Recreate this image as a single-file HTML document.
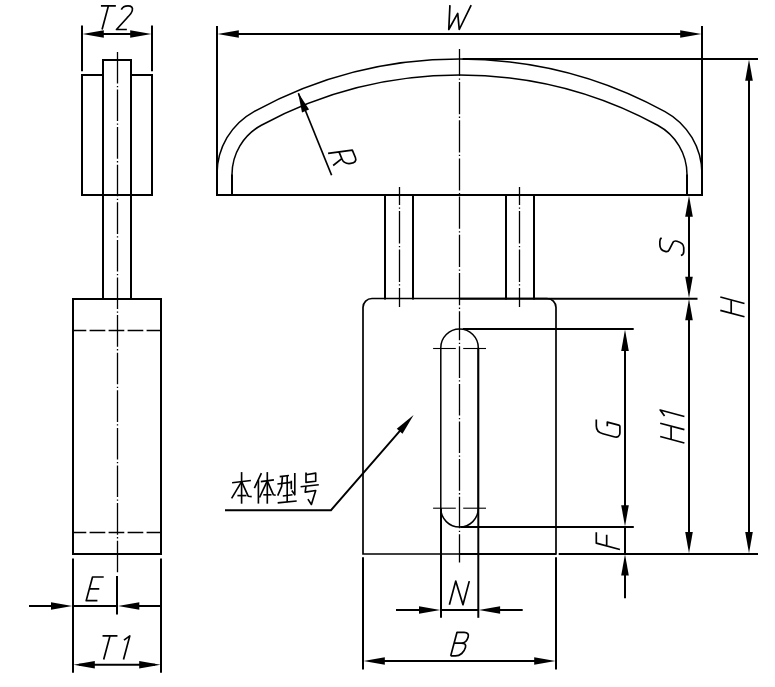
<!DOCTYPE html>
<html><head><meta charset="utf-8"><title>Drawing</title>
<style>html,body{margin:0;padding:0;background:#fff;font-family:"Liberation Sans",sans-serif;}svg{display:block}</style>
</head><body>
<svg width="775" height="687" viewBox="0 0 775 687" fill="none" stroke="#000" stroke-linecap="butt">
<rect x="0" y="0" width="775" height="687" fill="#fff" stroke="none"/>
<path d="M103,75 L82,75 L82,195 L152,195 L152,75 L131,75" stroke-width="2.0" stroke-linecap="square"/>
<path d="M103,299 L103,60 L131,60 L131,299" stroke-width="2.0"/>
<rect x="73" y="299" width="88" height="255" stroke-width="2.0"/>
<line x1="73" y1="330.5" x2="161" y2="330.5" stroke-width="1.3" stroke-dasharray="15.7 3.3" stroke-dashoffset="2.4"/>
<line x1="73" y1="532.5" x2="161" y2="532.5" stroke-width="1.3" stroke-dasharray="15.7 3.3" stroke-dashoffset="2.4"/>
<line x1="117.50" y1="51.00" x2="117.50" y2="573.30" stroke-width="1.3" stroke-dasharray="31.60 2.4 1.3 2.3" stroke-dashoffset="36.70"/>
<line x1="82.00" y1="25.60" x2="82.00" y2="71.30" stroke-width="2.0" />
<line x1="152.00" y1="25.60" x2="152.00" y2="71.30" stroke-width="2.0" />
<line x1="88.00" y1="34.00" x2="146.00" y2="34.00" stroke-width="2.0" />
<polygon points="82.50,34.00 103.80,30.20 103.80,37.80" fill="#000" stroke="none"/>
<polygon points="151.50,34.00 130.20,37.80 130.20,30.20" fill="#000" stroke="none"/>
<path d="M 100.92,5.90 L 115.86,5.90 M 108.40,5.90 L 102.08,29.50" stroke-width="1.7" fill="none" stroke-linejoin="round" stroke-linecap="butt"/>
<path d="M 121.31,9.68 C 122.42,7.32 124.68,5.90 127.99,5.90 C 131.53,5.90 133.09,7.55 132.27,10.62 C 131.57,13.22 130.07,14.87 127.19,17.70 L 116.47,29.50 L 126.86,29.50" stroke-width="1.7" fill="none" stroke-linejoin="round" stroke-linecap="butt"/>
<line x1="73.00" y1="558.40" x2="73.00" y2="672.80" stroke-width="2.0" />
<line x1="161.00" y1="558.40" x2="161.00" y2="672.80" stroke-width="2.0" />
<line x1="79.00" y1="664.80" x2="155.00" y2="664.80" stroke-width="2.0" />
<polygon points="73.50,664.80 94.80,661.00 94.80,668.60" fill="#000" stroke="none"/>
<polygon points="160.50,664.80 139.20,668.60 139.20,661.00" fill="#000" stroke="none"/>
<path d="M 102.52,635.90 L 117.46,635.90 M 110.00,635.90 L 103.68,659.50" stroke-width="1.7" fill="none" stroke-linejoin="round" stroke-linecap="butt"/>
<path d="M 123.97,640.15 L 129.82,635.90 L 123.50,659.50" stroke-width="1.7" fill="none" stroke-linejoin="round" stroke-linecap="butt"/>
<line x1="29.00" y1="606.00" x2="66.00" y2="606.00" stroke-width="2.0" />
<line x1="73.00" y1="606.00" x2="117.00" y2="606.00" stroke-width="2.0" />
<line x1="124.00" y1="606.00" x2="161.00" y2="606.00" stroke-width="2.0" />
<polygon points="72.30,606.00 51.00,609.80 51.00,602.20" fill="#000" stroke="none"/>
<polygon points="118.00,606.00 139.30,602.20 139.30,609.80" fill="#000" stroke="none"/>
<line x1="117.00" y1="576.00" x2="117.00" y2="614.50" stroke-width="2.0" />
<path d="M 103.73,577.00 L 92.52,577.00 L 86.20,600.60 L 97.41,600.60 M 89.36,588.80 L 99.27,588.80" stroke-width="1.7" fill="none" stroke-linejoin="round" stroke-linecap="butt"/>
<line x1="217.00" y1="26.00" x2="217.00" y2="195.00" stroke-width="2.0" />
<line x1="702.00" y1="26.00" x2="702.00" y2="195.00" stroke-width="2.0" />
<line x1="216.00" y1="195.00" x2="703.00" y2="195.00" stroke-width="2.0" />
<line x1="223.00" y1="34.00" x2="696.00" y2="34.00" stroke-width="2.0" />
<polygon points="217.50,34.00 238.80,30.20 238.80,37.80" fill="#000" stroke="none"/>
<polygon points="701.50,34.00 680.20,37.80 680.20,30.20" fill="#000" stroke="none"/>
<path d="M 449.94,5.10 L 448.77,29.50 L 457.72,13.40 L 459.26,29.50 L 471.17,5.10" stroke-width="1.7" fill="none" stroke-linejoin="round" stroke-linecap="butt"/>
<path d="M217.00,195 L217.00,174.00 A71.18,71.18 0 0 1 254.01,111.56 A428.00,428.00 0 0 1 664.99,111.56 A71.18,71.18 0 0 1 702.00,174.00 L702.00,195" stroke-width="1.5"/>
<path d="M232.00,195 L232.00,174.50 A56.04,56.04 0 0 1 261.35,125.22 A416.00,416.00 0 0 1 657.65,125.22 A56.04,56.04 0 0 1 687.00,174.50 L687.00,195" stroke-width="1.5"/>
<line x1="232.00" y1="174.50" x2="232.00" y2="195.00" stroke-width="2.0" />
<line x1="687.00" y1="174.50" x2="687.00" y2="195.00" stroke-width="2.0" />
<line x1="331.60" y1="175.20" x2="298.40" y2="93.30" stroke-width="1.7" />
<polygon points="298.00,92.50 309.05,109.60 302.01,112.46" fill="#000" stroke="none"/>
<path d="M 328.10,153.30 L 352.32,150.11 L 355.39,157.52 C 356.84,161.01 354.56,162.92 350.81,163.42 C 347.06,163.91 343.52,162.77 342.07,159.28 L 339.00,151.86 M 341.80,158.62 L 333.16,165.51" stroke-width="1.7" fill="none" stroke-linejoin="round" stroke-linecap="butt"/>
<line x1="385.00" y1="195.00" x2="385.00" y2="299.60" stroke-width="2.0" />
<line x1="413.00" y1="195.00" x2="413.00" y2="299.60" stroke-width="2.0" />
<line x1="506.00" y1="195.00" x2="506.00" y2="299.60" stroke-width="2.0" />
<line x1="534.00" y1="195.00" x2="534.00" y2="299.60" stroke-width="2.0" />
<line x1="399.50" y1="187.00" x2="399.50" y2="307.00" stroke-width="1.3" stroke-dasharray="32.40 2.4 1.3 2.3" stroke-dashoffset="14.30"/>
<line x1="519.50" y1="187.00" x2="519.50" y2="307.00" stroke-width="1.3" stroke-dasharray="32.40 2.4 1.3 2.3" stroke-dashoffset="14.30"/>
<path d="M363.0,554.0 L363.0,307.5 A9,9 0 0 1 372.0,298.5 L547.0,298.5 A9,9 0 0 1 556.0,307.5 L556.0,554.0 Z" stroke-width="1.7"/>
<path d="M440.8,508.35 L440.8,347.75 A18.75,18.75 0 0 1 478.3,347.75 L478.3,508.35 A18.75,18.75 0 0 1 440.8,508.35" stroke-width="1.5"/>
<line x1="478.30" y1="347.75" x2="478.30" y2="508.35" stroke-width="2.0" />
<line x1="441.00" y1="508.35" x2="441.00" y2="617.80" stroke-width="2.0" />
<line x1="478.30" y1="508.35" x2="478.30" y2="617.80" stroke-width="2.0" />
<line x1="433.10" y1="348.50" x2="455.80" y2="348.50" stroke-width="1.1" />
<line x1="463.20" y1="348.50" x2="486.00" y2="348.50" stroke-width="1.1" />
<line x1="433.10" y1="508.20" x2="455.80" y2="508.20" stroke-width="1.1" />
<line x1="463.20" y1="508.20" x2="486.00" y2="508.20" stroke-width="1.1" />
<line x1="459.50" y1="49.10" x2="459.50" y2="325.00" stroke-width="1.3" stroke-dasharray="32.20 2.4 1.3 2.3" stroke-dashoffset="5.30"/>
<line x1="459.50" y1="325.00" x2="459.50" y2="562.60" stroke-width="1.3" stroke-dasharray="31.60 2.4 1.3 2.3" stroke-dashoffset="16.30"/>
<line x1="462.60" y1="59.00" x2="758.00" y2="59.00" stroke-width="2.0" />
<line x1="459.50" y1="298.80" x2="697.50" y2="298.80" stroke-width="2.0" />
<line x1="462.90" y1="329.00" x2="633.70" y2="329.00" stroke-width="2.0" />
<line x1="460.50" y1="527.00" x2="633.80" y2="527.00" stroke-width="2.0" />
<line x1="459.50" y1="554.00" x2="556.00" y2="554.00" stroke-width="2.0" />
<line x1="558.70" y1="554.00" x2="758.00" y2="554.00" stroke-width="2.0" />
<line x1="625.00" y1="335.00" x2="625.00" y2="521.00" stroke-width="2.0" />
<line x1="625.00" y1="527.00" x2="625.00" y2="554.00" stroke-width="2.0" />
<line x1="625.00" y1="560.00" x2="625.00" y2="598.30" stroke-width="2.0" />
<polygon points="625.00,329.60 628.80,350.90 621.20,350.90" fill="#000" stroke="none"/>
<polygon points="625.00,526.50 621.20,505.20 628.80,505.20" fill="#000" stroke="none"/>
<polygon points="625.00,554.30 628.80,575.60 621.20,575.60" fill="#000" stroke="none"/>
<line x1="689.00" y1="201.00" x2="689.00" y2="292.50" stroke-width="2.0" />
<line x1="689.00" y1="304.50" x2="689.00" y2="548.00" stroke-width="2.0" />
<polygon points="689.00,195.50 692.80,216.80 685.20,216.80" fill="#000" stroke="none"/>
<polygon points="689.00,298.00 685.20,276.70 692.80,276.70" fill="#000" stroke="none"/>
<polygon points="689.00,299.00 692.80,320.30 685.20,320.30" fill="#000" stroke="none"/>
<polygon points="689.00,553.30 685.20,532.00 692.80,532.00" fill="#000" stroke="none"/>
<line x1="749.00" y1="65.00" x2="749.00" y2="548.00" stroke-width="2.0" />
<polygon points="749.00,59.50 752.80,80.80 745.20,80.80" fill="#000" stroke="none"/>
<polygon points="749.00,553.30 745.20,532.00 752.80,532.00" fill="#000" stroke="none"/>
<path d="M 661.52,237.78 C 660.33,238.65 659.85,239.96 659.85,241.39 L 659.85,244.74 C 659.85,248.08 661.76,250.51 665.11,251.40 C 667.50,252.05 668.45,251.35 669.17,249.86 L 673.00,242.29 C 673.71,241.04 674.91,240.65 677.06,241.22 C 681.36,242.38 683.75,244.45 683.75,247.80 L 683.75,251.62 C 683.75,254.01 682.55,255.12 680.88,255.39" stroke-width="1.7" fill="none" stroke-linejoin="round" stroke-linecap="butt"/>
<path d="M 720.30,310.32 L 744.50,316.80 M 720.30,297.01 L 744.50,303.49 M 731.19,313.23 L 731.19,299.92" stroke-width="1.7" fill="none" stroke-linejoin="round" stroke-linecap="butt"/>
<path d="M 660.20,436.52 L 684.40,443.00 M 660.20,423.21 L 684.40,429.69 M 671.09,439.43 L 671.09,426.12" stroke-width="1.7" fill="none" stroke-linejoin="round" stroke-linecap="butt"/>
<path d="M 664.56,416.02 L 660.20,410.02 L 684.40,416.50" stroke-width="1.7" fill="none" stroke-linejoin="round" stroke-linecap="butt"/>
<path d="M 596.30,419.47 L 596.30,425.93 C 596.30,429.62 598.66,432.61 602.91,433.75 L 614.00,436.72 C 617.54,437.67 619.90,436.41 619.90,433.11 L 619.90,426.50 Q 619.90,425.46 618.72,425.15 L 607.30,422.08 L 607.30,426.29" stroke-width="1.7" fill="none" stroke-linejoin="round" stroke-linecap="butt"/>
<path d="M 596.30,532.32 L 596.30,543.18 L 619.90,549.50 M 606.68,545.96 L 606.68,534.87" stroke-width="1.7" fill="none" stroke-linejoin="round" stroke-linecap="butt"/>
<line x1="396.00" y1="610.00" x2="434.00" y2="610.00" stroke-width="2.0" />
<line x1="441.00" y1="610.00" x2="478.30" y2="610.00" stroke-width="2.0" />
<line x1="485.00" y1="610.00" x2="522.70" y2="610.00" stroke-width="2.0" />
<polygon points="440.30,610.00 419.00,613.80 419.00,606.20" fill="#000" stroke="none"/>
<polygon points="478.80,610.00 500.10,606.20 500.10,613.80" fill="#000" stroke="none"/>
<path d="M 449.40,604.70 L 455.72,581.10 L 462.97,604.70 L 469.29,581.10" stroke-width="1.7" fill="none" stroke-linejoin="round" stroke-linecap="butt"/>
<line x1="363.00" y1="557.30" x2="363.00" y2="669.50" stroke-width="2.0" />
<line x1="556.00" y1="557.30" x2="556.00" y2="669.50" stroke-width="2.0" />
<line x1="369.00" y1="661.00" x2="550.00" y2="661.00" stroke-width="2.0" />
<polygon points="363.50,661.00 384.80,657.20 384.80,664.80" fill="#000" stroke="none"/>
<polygon points="555.50,661.00 534.20,664.80 534.20,657.20" fill="#000" stroke="none"/>
<path d="M 450.70,655.90 L 457.02,632.30 L 464.10,632.30 C 467.64,632.30 468.91,634.19 468.15,637.02 C 467.14,640.80 464.50,643.16 461.19,643.16 L 454.11,643.16 M 461.19,643.16 C 464.73,643.16 466.24,644.57 465.48,647.40 C 464.16,652.36 460.14,655.90 455.42,655.90 L 450.70,655.90" stroke-width="1.7" fill="none" stroke-linejoin="round" stroke-linecap="butt"/>
<path d="M225,510.2 L331,510.2 L408.4,421.1" stroke-width="1.9"/>
<polygon points="413.60,415.10 402.50,433.67 396.76,428.69" fill="#000" stroke="none"/>
<path d="M241.6,472.1 L241.6,503.7" stroke-width="1.65" stroke-linecap="butt" stroke-linejoin="round"/>
<path d="M232.1,482.7 L250.9,480.5" stroke-width="1.65" stroke-linecap="butt" stroke-linejoin="round"/>
<path d="M241.6,481.6 L231.6,498.3" stroke-width="1.65" stroke-linecap="butt" stroke-linejoin="round"/>
<path d="M241.6,481.6 L248.2,496.2 L251.7,496.6" stroke-width="1.65" stroke-linecap="butt" stroke-linejoin="round"/>
<path d="M237.4,495.6 L246.5,495.6" stroke-width="1.65" stroke-linecap="butt" stroke-linejoin="round"/>
<path d="M261.4,473.1 L254.4,488.2" stroke-width="1.65" stroke-linecap="butt" stroke-linejoin="round"/>
<path d="M258.4,480.1 L258.4,503.6" stroke-width="1.65" stroke-linecap="butt" stroke-linejoin="round"/>
<path d="M267.3,472.1 L267.3,503.7" stroke-width="1.65" stroke-linecap="butt" stroke-linejoin="round"/>
<path d="M260.8,481.6 L273.9,479.9" stroke-width="1.65" stroke-linecap="butt" stroke-linejoin="round"/>
<path d="M267.3,480.9 L259.5,497.5" stroke-width="1.65" stroke-linecap="butt" stroke-linejoin="round"/>
<path d="M267.3,480.9 L273.4,494.8 L275.7,495.2" stroke-width="1.65" stroke-linecap="butt" stroke-linejoin="round"/>
<path d="M263.3,494.8 L271.5,494.8" stroke-width="1.65" stroke-linecap="butt" stroke-linejoin="round"/>
<path d="M279.7,476.6 L289.0,475.5" stroke-width="1.65" stroke-linecap="butt" stroke-linejoin="round"/>
<path d="M277.4,484.0 L290.9,482.4" stroke-width="1.65" stroke-linecap="butt" stroke-linejoin="round"/>
<path d="M282.4,476.6 L281.6,486.7 L277.7,495.6" stroke-width="1.65" stroke-linecap="butt" stroke-linejoin="round"/>
<path d="M287.2,475.8 L287.2,502.2" stroke-width="1.65" stroke-linecap="butt" stroke-linejoin="round"/>
<path d="M282.8,496.0 L292.5,494.8" stroke-width="1.65" stroke-linecap="butt" stroke-linejoin="round"/>
<path d="M277.7,502.9 L296.7,501.0" stroke-width="1.65" stroke-linecap="butt" stroke-linejoin="round"/>
<path d="M291.3,480.7 L291.3,489.2" stroke-width="1.65" stroke-linecap="butt" stroke-linejoin="round"/>
<path d="M294.8,473.1 L294.8,494.8 L291.8,490.6" stroke-width="1.65" stroke-linecap="butt" stroke-linejoin="round"/>
<path d="M306.0,472.4 L306.0,482.4 L315.7,481.3 L315.7,473.1 L306.0,474.7" stroke-width="1.65" stroke-linecap="butt" stroke-linejoin="round"/>
<path d="M300.6,486.7 L318.8,484.7" stroke-width="1.65" stroke-linecap="butt" stroke-linejoin="round"/>
<path d="M306.0,486.2 L305.2,492.1 L315.7,490.5 L311.4,504.5 L307.9,499.1" stroke-width="1.65" stroke-linecap="butt" stroke-linejoin="round"/>
</svg>
</body></html>
